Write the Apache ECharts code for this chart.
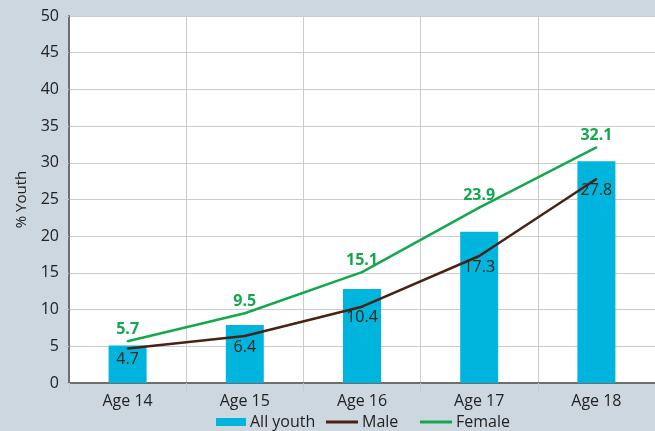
<!DOCTYPE html>
<html><head><meta charset="utf-8">
<script src="https://cdn.jsdelivr.net/npm/echarts@6/dist/echarts.min.js"></script>
<style>html,body{margin:0;padding:0;background:#cdd7df;}#c{width:655px;height:431px;}</style>
</head><body><div id="c"></div>
<script>
const categories = ['Age 14','Age 15','Age 16','Age 17','Age 18'];
const allYouth = [5.1, 7.9, 12.8, 20.6, 30.2];
const male = [4.7, 6.4, 10.4, 17.3, 27.8];
const female = [5.7, 9.5, 15.1, 23.9, 32.1];
const yTicks = {min: 0, max: 50, interval: 5};

const font = '"Open Sans", "Noto Sans", sans-serif';
const lineIcon = 'path://M0,0 L32,0 L32,3 L0,3 Z';
function leg(name, left, icon, w, h, color) {
  return {
    bottom: -4, left: left, itemWidth: w, itemHeight: h, padding: 5,
    textStyle: {fontFamily: font, fontSize: 16, color: '#222', padding: [0,0,0,-1]},
    data: [{name: name, icon: icon, itemStyle: {color: color, opacity: 1}}]
  };
}
const chart = echarts.init(document.getElementById('c'));
chart.setOption({
  backgroundColor: '#cdd7df',
  animation: false,
  textStyle: {fontFamily: font},
  grid: {left: 69, right: 0, top: 16, bottom: 48, backgroundColor: '#fff', show: true, borderWidth: 0},
  legend: [
    leg('All youth', 211, 'rect', 30, 8, '#00b5dd'),
    leg('Male', 321, lineIcon, 32, 3, '#4a2214'),
    leg('Female', 415, lineIcon, 32, 3, '#14a84e')
  ],
  xAxis: {
    type: 'category', data: categories,
    axisLine: {lineStyle: {color: '#6e6e6e', width: 2}},
    axisTick: {show: true, length: 8, lineStyle: {color: '#c8c8c8'}},
    axisLabel: {fontSize: 16, color: '#222', margin: 10, fontFamily: font},
    splitLine: {show: true, lineStyle: {color: '#cccccc'}}
  },
  yAxis: {
    type: 'value', min: yTicks.min, max: yTicks.max, interval: yTicks.interval,
    name: '% Youth', nameLocation: 'middle', nameGap: 40, nameRotate: 90,
    nameTextStyle: {fontSize: 15, color: '#222', fontFamily: font},
    axisLine: {show: true, lineStyle: {color: '#6e6e6e', width: 2}},
    axisTick: {show: true, length: 5, lineStyle: {color: '#cccccc'}},
    axisLabel: {fontSize: 16, color: '#222', margin: 10, fontFamily: font},
    splitLine: {show: true, lineStyle: {color: '#cccccc'}}
  },
  series: [
    {name: 'All youth', type: 'bar', data: allYouth, barWidth: 38,
     itemStyle: {color: '#00b5dd'}},
    {name: 'Male', type: 'line', data: male, symbol: 'circle', symbolSize: 2, showSymbol: true,
     color: '#4a2214', itemStyle: {color: '#4a2214'},
     lineStyle: {width: 2.5, color: '#4a2214'},
     label: {show: true, position: 'bottom', distance: 2, fontSize: 16, color: '#3a2418', fontFamily: font}},
    {name: 'Female', type: 'line', data: female, symbol: 'circle', symbolSize: 2, showSymbol: true,
     color: '#14a84e', itemStyle: {color: '#14a84e'},
     lineStyle: {width: 2.5, color: '#14a84e'},
     label: {show: true, position: 'top', distance: 3, fontSize: 16, fontWeight: 'bold', color: '#14a84e', fontFamily: font}}
  ]
});
</script></body></html>
